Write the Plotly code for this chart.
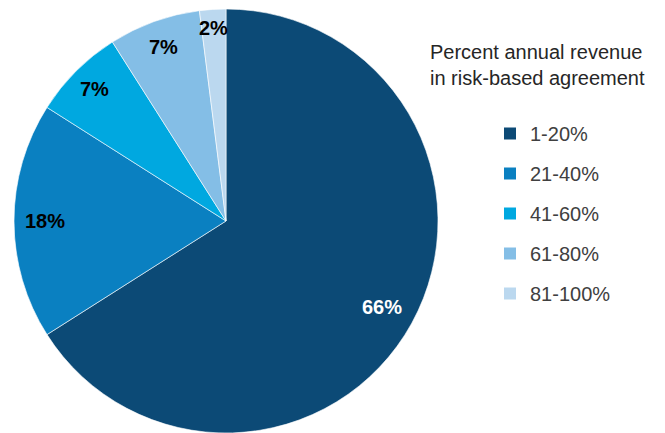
import math
import plotly.graph_objects as go

categories = ["1-20%", "21-40%", "41-60%", "61-80%", "81-100%"]
values = [66, 18, 7, 7, 2]
colors = ["#0C4A76", "#0A80C1", "#00A8E0", "#84BEE6", "#BBD8EF"]
label_colors = ["white", "black", "black", "black", "black"]
label_radius = [0.84, 0.855, 0.88, 0.87, 0.91]

W, H = 665, 433
dom_x = [14 / W, 438 / W]
dom_y = [0.0, 424 / H]

fig = go.Figure()
fig.add_trace(go.Pie(
    labels=categories, values=values, sort=False, direction="clockwise", rotation=0,
    marker=dict(colors=colors, line=dict(color="white", width=0.6)),
    textinfo="none", hoverinfo="label+percent", showlegend=False,
    domain=dict(x=dom_x, y=dom_y),
))

# legend entries (one group each for spacing)
for c, col in zip(categories, colors):
    fig.add_trace(go.Scatter(x=[None], y=[None], mode="markers", name=c,
                             marker=dict(symbol="square", size=12, color=col),
                             legendgroup=c, showlegend=True))

# percentage labels computed from the values
cx_px = (dom_x[0] + dom_x[1]) / 2 * W
cy_px = (1 - (dom_y[0] + dom_y[1]) / 2) * H
R = (dom_x[1] - dom_x[0]) * W / 2
total = sum(values)
cum = 0
for v, lc, rf in zip(values, label_colors, label_radius):
    mid = (cum + v / 2) / total * 2 * math.pi
    cum += v
    px = cx_px + rf * R * math.sin(mid)
    py = cy_px - rf * R * math.cos(mid)
    fig.add_annotation(x=px / W, y=1 - py / H, xref="paper", yref="paper",
                       xanchor="center", yanchor="middle",
                       text=f"<b>{round(v / total * 100)}%</b>", showarrow=False,
                       font=dict(family="Liberation Sans, Arial", size=20, color=lc))

fig.add_annotation(x=428 / W, y=1 - 39 / H, xref="paper", yref="paper",
                   xanchor="left", yanchor="top", align="left", showarrow=False,
                   text="Percent annual revenue<br>in risk-based agreement",
                   font=dict(family="Liberation Sans, Arial", size=20, color="#262626"))

fig.update_layout(
    width=W, height=H, margin=dict(l=0, r=0, t=0, b=0),
    paper_bgcolor="white", plot_bgcolor="white",
    xaxis=dict(visible=False), yaxis=dict(visible=False),
    legend=dict(x=490 / W, y=1 - 114 / H, xanchor="left", yanchor="top",
                tracegroupgap=11, itemsizing="constant",
                font=dict(family="Liberation Sans, Arial", size=20, color="#404040"),
                bgcolor="rgba(0,0,0,0)"),
    showlegend=True,
)

fig.write_html("out.html")
